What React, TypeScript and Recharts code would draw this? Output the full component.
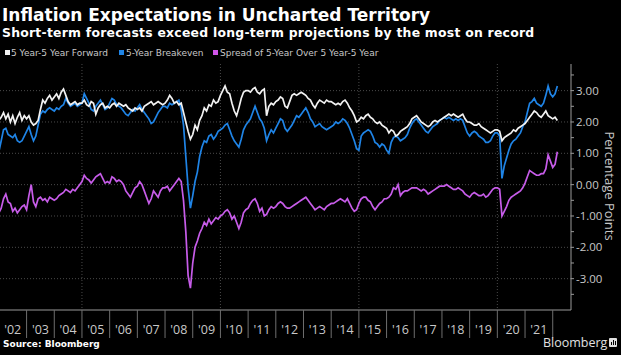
import { LineChart, Line, XAxis, YAxis, CartesianGrid } from 'recharts';

// monthly observations, Jan 2002 .. Mar 2022
const months = Array.from({ length: 243 }, (_, i) => 2002 + i / 12);

const forward = [
  2.05, 2.15, 2.3, 2.1, 2.25, 2.0, 2.2, 1.95, 2.15, 2.3, 2.05, 2.2,
  2.1, 2.2, 2.0, 1.9, 1.95, 2.05, 2.4, 2.7, 2.6, 2.75, 2.85, 2.7,
  2.8, 2.9, 2.75, 2.95, 3.05, 2.85, 2.65, 2.55, 2.6, 2.65, 2.55, 2.6,
  2.6, 2.7, 2.55, 2.5, 2.65, 2.6, 2.25, 2.45, 2.55, 2.6, 2.45, 2.5,
  2.45, 2.55, 2.6, 2.5, 2.6, 2.55, 2.5, 2.55, 2.45, 2.4, 2.35, 2.45,
  2.4, 2.45, 2.35, 2.5, 2.55, 2.6, 2.65, 2.55, 2.6, 2.65, 2.6, 2.55,
  2.6, 2.7, 2.85, 2.75, 2.6, 2.65, 2.55, 2.6, 2.3, 2.0, 1.7, 1.45,
  1.6, 1.9, 1.75, 2.05, 2.2, 2.45, 2.35, 2.55, 2.5, 2.7, 2.6, 2.65,
  2.85, 3.0, 3.15, 2.95, 2.9, 2.6, 2.35, 2.2, 2.45, 2.75, 2.95, 3.0,
  3.0, 2.95, 3.05, 3.1, 2.95, 2.9, 3.0, 3.05, 2.2, 2.5, 2.6, 2.55,
  2.65, 2.7, 2.8, 2.75, 2.5, 2.45, 2.65, 2.85, 2.9, 2.85, 2.9, 2.95,
  2.9, 2.85, 2.75, 2.7, 2.55, 2.45, 2.6, 2.7, 2.65, 2.6, 2.7, 2.65,
  2.65, 2.6, 2.55, 2.6, 2.55, 2.65, 2.7, 2.6, 2.45, 2.35, 2.2, 2.0,
  2.05, 2.15, 2.1, 2.2, 2.25, 2.15, 2.1, 2.0, 1.95, 2.0, 1.9, 1.85,
  1.8, 1.65, 1.75, 1.7, 1.55, 1.6, 1.7, 1.75, 1.8, 1.85, 1.95, 2.1,
  2.15, 2.2, 2.1, 2.0, 1.95, 1.9, 1.85, 1.9, 2.0, 2.05, 2.0, 2.05,
  2.1, 2.15, 2.2, 2.25, 2.2, 2.25, 2.2, 2.15, 2.2, 2.25, 2.1, 2.0,
  2.0, 1.95, 1.9, 1.9, 1.95, 1.85, 1.8, 1.75, 1.7, 1.65, 1.7, 1.75,
  1.75, 1.7, 1.4, 1.5, 1.55, 1.6, 1.65, 1.75, 1.7, 1.8, 1.85, 1.9,
  1.95, 2.05, 2.15, 2.25, 2.35, 2.3, 2.2, 2.15, 2.25, 2.35, 2.2, 2.15,
  2.1, 2.15, 2.05,
];

const breakeven = [
  1.05, 1.4, 1.75, 1.8, 1.6, 1.55, 1.5, 1.6, 1.4, 1.35, 1.4, 1.55,
  1.7, 1.85, 1.6, 1.4, 1.55, 1.9, 2.25, 2.35, 2.3, 2.4, 2.45, 2.4,
  2.35, 2.45, 2.4, 2.5, 2.55, 2.75, 2.6, 2.5, 2.55, 2.6, 2.5, 2.55,
  2.6, 2.9, 2.75, 2.6, 2.4, 2.35, 2.5, 2.6, 2.7, 2.55, 2.4, 2.45,
  2.6, 2.75, 2.7, 2.55, 2.5, 2.45, 2.35, 2.25, 2.2, 2.3, 2.4, 2.35,
  2.45, 2.55, 2.4, 2.3, 2.2, 2.1, 1.95, 2.0, 2.15, 2.3, 2.4, 2.5,
  2.5, 2.45, 2.6, 2.55, 2.6, 2.65, 2.7, 2.4, 1.9, 0.9, -0.1, -0.75,
  -0.35, 0.1, 0.4, 0.9, 1.2, 1.4, 1.35, 1.55, 1.6, 1.45, 1.55, 1.7,
  1.75, 1.8, 1.9, 1.95, 1.75, 1.55, 1.4, 1.3, 1.2, 1.45, 1.75, 1.9,
  2.0, 2.1, 2.3, 2.5, 2.3, 2.1, 2.0, 1.8, 1.4, 1.6, 1.75, 1.65,
  1.8, 1.95, 2.1, 2.05, 1.8, 1.7, 1.8, 1.9, 2.05, 2.2, 2.15, 2.25,
  2.35, 2.45, 2.3, 2.1, 2.0, 1.85, 1.9, 1.95, 1.85, 1.8, 1.75, 1.8,
  1.85, 1.9, 2.0, 1.95, 2.0, 2.1, 2.05, 1.95, 1.8, 1.6, 1.4, 1.15,
  1.1, 1.55, 1.65, 1.7, 1.75, 1.7, 1.55, 1.35, 1.3, 1.2, 1.3, 1.25,
  1.1, 1.0, 1.35, 1.5, 1.55, 1.5, 1.4, 1.45, 1.5, 1.6, 1.8, 1.95,
  2.05, 2.1, 2.0, 1.9, 1.8, 1.7, 1.65, 1.75, 1.85, 1.9, 1.95, 2.05,
  2.1, 2.15, 2.1, 2.15, 2.1, 2.05, 2.1, 2.05, 2.1, 2.05, 1.85, 1.65,
  1.55, 1.65, 1.7, 1.65, 1.55, 1.5, 1.45, 1.35, 1.35, 1.4, 1.55, 1.65,
  1.65, 1.55, 0.2, 0.6, 0.85, 1.1, 1.3, 1.4, 1.45, 1.55, 1.65, 1.85,
  2.0, 2.3, 2.6, 2.65, 2.75, 2.6, 2.55, 2.5, 2.6, 2.85, 3.15, 2.9,
  2.8, 2.9, 3.15,
];

const spread = [
  -0.9, -0.75, -0.45, -0.3, -0.55, -0.6, -0.85, -0.75, -0.9, -0.8, -0.7, -0.65,
  -0.8, -0.35, 0.0, -0.55, -0.7, -0.45, -0.4, -0.5, -0.45, -0.55, -0.4, -0.45,
  -0.5, -0.45, -0.35, -0.3, -0.25, -0.15, -0.2, -0.25, -0.15, -0.2, -0.1, 0.0,
  0.1, 0.3, 0.2, 0.15, 0.05, 0.15, 0.25, 0.3, 0.35, 0.2, 0.05, 0.1,
  0.05, 0.25, 0.2, 0.1, 0.15, 0.1, 0.0, -0.2, -0.3, -0.4, -0.25, -0.1,
  -0.05, 0.1, 0.0, -0.2, -0.4, -0.6, -0.45, -0.2, -0.3, -0.4, -0.2, -0.1,
  -0.1, -0.05, -0.2, -0.1, 0.0, 0.1, 0.2, 0.1, -0.5, -1.5, -2.9, -3.3,
  -2.5, -2.0, -1.8, -1.55, -1.4, -1.2, -1.3, -1.1, -1.25, -1.15, -1.05, -1.1,
  -1.0, -0.95, -0.85, -0.8, -0.9, -1.1, -1.0, -1.2, -1.4, -1.2, -0.9, -0.8,
  -0.75, -0.6, -0.5, -0.45, -0.6, -0.85, -0.75, -1.0, -0.95, -0.8, -0.7, -0.75,
  -0.7, -0.6, -0.55, -0.6, -0.7, -0.75, -0.75, -0.7, -0.65, -0.6, -0.55, -0.5,
  -0.45, -0.4, -0.5, -0.6, -0.7, -0.8, -0.75, -0.7, -0.75, -0.8, -0.7, -0.65,
  -0.6, -0.6, -0.55, -0.5, -0.45, -0.5, -0.55, -0.45, -0.6, -0.75, -0.85, -0.8,
  -0.6, -0.45, -0.4, -0.4, -0.5, -0.55, -0.7, -0.8, -0.7, -0.6, -0.55, -0.45,
  -0.45, -0.4, -0.3, -0.1, -0.15, 0.0, -0.35, -0.25, -0.2, -0.2, -0.15, -0.1,
  -0.1, -0.1, -0.15, -0.2, -0.15, -0.2, -0.3, -0.25, -0.2, -0.15, -0.1, -0.05,
  -0.05, -0.05, 0.0, -0.05, -0.1, -0.15, -0.15, -0.1, -0.15, -0.2, -0.3, -0.35,
  -0.4, -0.3, -0.25, -0.3, -0.35, -0.35, -0.3, -0.4, -0.35, -0.25, -0.15, -0.1,
  -0.1, -0.15, -1.0, -0.85, -0.7, -0.5, -0.4, -0.35, -0.3, -0.25, -0.2, -0.1,
  0.05, 0.25, 0.45, 0.4, 0.35, 0.3, 0.3, 0.35, 0.35, 0.5, 0.95, 0.75,
  0.55, 0.65, 1.05,
];

const yearStarts = [2002, 2003, 2004, 2005, 2006, 2007, 2008, 2009, 2010, 2011,
  2012, 2013, 2014, 2015, 2016, 2017, 2018, 2019, 2020, 2021];
const yearLabels = ["'02", "'03", "'04", "'05", "'06", "'07", "'08", "'09", "'10", "'11",
  "'12", "'13", "'14", "'15", "'16", "'17", "'18", "'19", "'20", "'21"];
const gridYears = [2005, 2010, 2015, 2020];
const yTicks = [-3.5, -3, -2.5, -2, -1.5, -1, -0.5, 0, 0.5, 1, 1.5, 2, 2.5, 3, 3.5];
const gridLevels = [-3, -2, -1, 0, 1, 2, 3];

const seriesNames = ['5 Year-5 Year Forward', '5-Year Breakeven', 'Spread of 5-Year Over 5 Year-5 Year'];
const seriesColors = ['#f2f2f2', '#1f84e6', '#c75ce9'];

const data = months.map((t, i) => ({
  t,
  fwd: forward[i],
  be: breakeven[i],
  spread: spread[i],
}));

// label at mid-year, separator at each year boundary
const xTicks = yearStarts.flatMap((y) => [y + 0.5, y + 1]);

const YearTick = (props: any) => {
  const { x, y, payload } = props;
  const v = payload.value;
  if (Number.isInteger(v)) {
    return <line x1={x} x2={x} y1={y} y2={y + 28} stroke="#6e6e6e" strokeWidth={1} />;
  }
  const label = yearLabels[Math.floor(v) - 2002];
  return (
    <text x={x} y={y + 24} textAnchor="middle" fill="#c8c8c8" fontSize={12.5} fontFamily="'Open Sans', sans-serif">
      {label}
    </text>
  );
};

const AxisTitle = (props: any) => {
  const vb = props.viewBox;
  const cx = vb.x + 39;
  const cy = vb.y + vb.height / 2 - 1;
  return (
    <text
      x={cx}
      y={cy}
      transform={`rotate(90 ${cx} ${cy})`}
      textAnchor="middle"
      dominantBaseline="central"
      fill="#c8c8c8"
      fontSize={13}
      fontFamily="'Open Sans', sans-serif"
    >
      Percentage Points
    </text>
  );
};

export default function App() {
  return (
    <div style={{ position: 'absolute', left: 0, top: 0, width: 621, height: 355, background: '#000', overflow: 'hidden' }}>
      <LineChart width={621} height={355} data={data} margin={{ top: 64, right: 0, bottom: 0, left: 0 }}>
        <CartesianGrid
          stroke="#4a4a4a"
          strokeDasharray="1 2"
          horizontalValues={gridLevels}
          verticalValues={gridYears}
        />
        <XAxis
          dataKey="t"
          type="number"
          domain={[2002.04, 2022.66]}
          allowDataOverflow
          ticks={xTicks}
          interval={0}
          height={45}
          tickSize={0}
          tickMargin={0}
          tickLine={false}
          axisLine={{ stroke: '#9a9a9a' }}
          tick={<YearTick />}
        />
        <YAxis
          orientation="right"
          type="number"
          domain={[-4, 3.85]}
          allowDataOverflow
          ticks={yTicks}
          interval={0}
          width={50}
          tickSize={3}
          tickMargin={2}
          axisLine={{ stroke: '#9a9a9a' }}
          tickLine={{ stroke: '#9a9a9a' }}
          tick={{ fill: '#c8c8c8', fontSize: 11.5, fontFamily: "'Open Sans', sans-serif" }}
          tickFormatter={(v: number) => (Number.isInteger(v) ? v.toFixed(2) : '')}
          label={<AxisTitle />}
        />
        <Line type="linear" dataKey="be" stroke={seriesColors[1]} strokeWidth={1.7} dot={false} isAnimationActive={false} />
        <Line type="linear" dataKey="fwd" stroke={seriesColors[0]} strokeWidth={1.7} dot={false} isAnimationActive={false} />
        <Line type="linear" dataKey="spread" stroke={seriesColors[2]} strokeWidth={1.7} dot={false} isAnimationActive={false} />
      </LineChart>

      <svg width={621} height={355} style={{ position: 'absolute', left: 0, top: 0, pointerEvents: 'none' }}>
        <text x={2} y={21} fill="#fff" fontSize={17} fontWeight={700} fontFamily="'DejaVu Sans', sans-serif">
          Inflation Expectations in Uncharted Territory
        </text>
        <text x={2} y={37} fill="#fff" fontSize={12.4} fontWeight={700} letterSpacing={0.25}
          fontFamily="'DejaVu Sans', sans-serif">
          Short-term forecasts exceed long-term projections by the most on record
        </text>
        <g fontSize={9} fontFamily="'DejaVu Sans', sans-serif" fill="#c8c8c8">
          <rect x={5} y={50} width={5} height={5} fill={seriesColors[0]} />
          <text x={11} y={56}>{seriesNames[0]}</text>
          <rect x={119} y={50} width={5} height={5} fill={seriesColors[1]} />
          <text x={126} y={56}>{seriesNames[1]}</text>
          <rect x={213} y={50} width={5} height={5} fill="#d255ea" />
          <text x={220} y={56}>{seriesNames[2]}</text>
        </g>
        <text x={3} y={347} fill="#fff" fontSize={9} fontWeight={700} fontFamily="'DejaVu Sans', sans-serif">
          Source: Bloomberg
        </text>
        <text x={543} y={347} fill="#e0e0e0" fontSize={12.5} fontFamily="'Open Sans', sans-serif">
          Bloomberg
        </text>
        <rect x={609} y={338} width={8} height={9} rx={1} fill="#e0e0e0" />
        <rect x={611} y={342} width={1} height={3} fill="#000" />
        <rect x={613} y={340} width={1} height={5} fill="#000" />
        <rect x={615} y={341} width={1} height={4} fill="#000" />
      </svg>
    </div>
  );
}
